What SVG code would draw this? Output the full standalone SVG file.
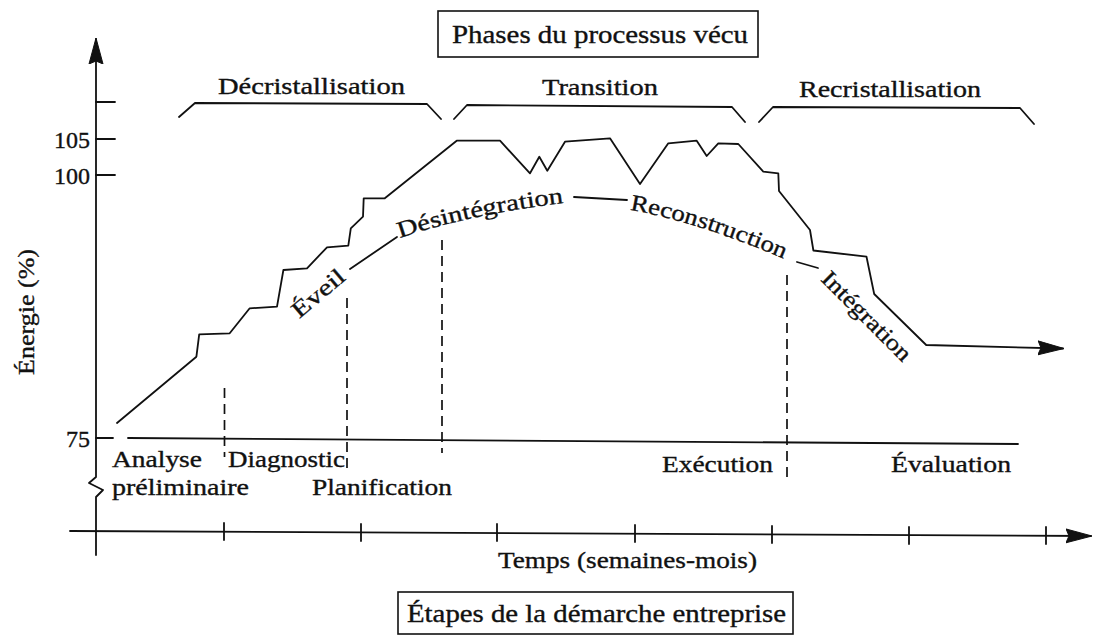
<svg xmlns="http://www.w3.org/2000/svg" width="1093" height="641" viewBox="0 0 1093 641">
<defs>
<style>
.ln{fill:none;stroke:#111;stroke-width:1.8;stroke-linejoin:round;stroke-linecap:round}
.dash{fill:none;stroke:#111;stroke-width:1.7;stroke-dasharray:10 6}
.box{fill:#fff;stroke:#111;stroke-width:1.6}
.t{font-family:"Liberation Serif","Times New Roman",serif;font-size:23px;fill:#111;stroke:#111;stroke-width:0.35}
.big{font-size:25px}
.num{font-size:24px}
</style>
<marker id="arrow" viewBox="0 0 26 16" refX="25" refY="8" markerWidth="26" markerHeight="16" markerUnits="userSpaceOnUse" orient="auto">
<path d="M0,1 L26,8 L0,15 L3,8 Z" fill="#111" stroke="#111" stroke-width="1" stroke-linejoin="round"/>
</marker>
<path id="p-desint" d="M400,238 Q470,214 572,202"/>
<path id="p-recon" d="M630,210 Q700,222 796,264"/>
</defs>
<rect width="1093" height="641" fill="#fff"/>

<!-- header: phases of the lived process -->
<g id="phases-title">
<rect class="box" x="438" y="11" width="320" height="46"/>
<text class="t big" x="452" y="43" textLength="296" lengthAdjust="spacingAndGlyphs">Phases du processus vécu</text>
</g>

<g id="phase-decristallisation">
<path class="ln" d="M179,117 L195,103 L427,104 L441,119"/>
<text class="t" x="218" y="94" textLength="187" lengthAdjust="spacingAndGlyphs">Décristallisation</text>
</g>
<g id="phase-transition">
<path class="ln" d="M454,119 L467,105 L732,107 L745,122"/>
<text class="t" x="542" y="95" textLength="116" lengthAdjust="spacingAndGlyphs">Transition</text>
</g>
<g id="phase-recristallisation">
<path class="ln" d="M759,122 L773,107 L1020,108 L1034,124"/>
<text class="t" x="799" y="97" textLength="182" lengthAdjust="spacingAndGlyphs">Recristallisation</text>
</g>

<!-- axes -->
<g id="axes">
<path class="ln" d="M96,555 L96,497 L103,490 L89,483 L96,477 L96,39" marker-end="url(#arrow)"/>
<path class="ln" d="M96,102 H115 M96,139 H115 M96,175 H115 M96,438 H113"/>
<text class="t num" x="90" y="148" text-anchor="end">105</text>
<text class="t num" x="90" y="184" text-anchor="end">100</text>
<text class="t num" x="90" y="447" text-anchor="end">75</text>
<text class="t" transform="translate(34,312) rotate(-90)" text-anchor="middle" textLength="126" lengthAdjust="spacingAndGlyphs">Énergie (%)</text>
<path class="ln" d="M70,531 L1091,536" marker-end="url(#arrow)"/>
<path class="ln" d="M224,523 V540 M361,524 V541 M497,524 V541 M635,525 V542 M772,526 V543 M909,527 V544 M1046,527 V544"/>
<text class="t" x="498" y="568" textLength="259" lengthAdjust="spacingAndGlyphs">Temps (semaines-mois)</text>
</g>

<!-- baseline of the steps and their boundaries -->
<g id="steps-baseline">
<path class="ln" d="M128,438 L1018,444"/>
<path class="dash" d="M224.5,388 V457"/>
<path class="dash" d="M347,298 V468"/>
<path class="dash" d="M442,240 V453"/>
<path class="dash" d="M787,275 V478"/>
</g>

<g id="step-analyse">
<text class="t" x="112" y="467" textLength="90" lengthAdjust="spacingAndGlyphs">Analyse</text>
<text class="t" x="112" y="495" textLength="137" lengthAdjust="spacingAndGlyphs">préliminaire</text>
</g>
<g id="step-diagnostic">
<text class="t" x="228" y="467" textLength="117" lengthAdjust="spacingAndGlyphs">Diagnostic</text>
</g>
<g id="step-planification">
<text class="t" x="312" y="495" textLength="140" lengthAdjust="spacingAndGlyphs">Planification</text>
</g>
<g id="step-execution">
<text class="t" x="662" y="472" textLength="111" lengthAdjust="spacingAndGlyphs">Exécution</text>
</g>
<g id="step-evaluation">
<text class="t" x="891" y="472" textLength="120" lengthAdjust="spacingAndGlyphs">Évaluation</text>
</g>

<g id="steps-title">
<rect class="box" x="398" y="592" width="395" height="42"/>
<text class="t big" x="407" y="622" textLength="379" lengthAdjust="spacingAndGlyphs">Étapes de la démarche entreprise</text>
</g>

<!-- energy curve and the lived-process track -->
<g id="connectors">
<path class="ln" marker-end="url(#arrow)" d="M117,423 L196.4,356.7 L199.2,334.3 L229.7,333.3 L249.7,308.3 L277,306.7 L283.4,270 L307,268.3 L327,247.3 L348.3,245.7 L350.8,228.3 L363,216.7 L363.7,198.3 L384.8,198.3 L456.7,140.7 L500,140.7 L530,173.3 L539.3,156.7 L547.3,170.7 L565,141.7 L610,138.3 L640,184 L668.3,143.3 L696.7,140.7 L706.7,156 L718.3,143.3 L738.3,144 L763.3,171.7 L778.3,173.3 L779,191 L810,230 L813.4,250.5 L866.5,256.7 L874.2,294 L926.2,345 L1063,348.5"/>
<path class="ln" d="M350,269 L397,237"/>
<path class="ln" d="M574,197 L627,200"/>
<path class="ln" d="M797,262 L818,268"/>
</g>

<g id="stage-eveil">
<text class="t" transform="translate(323,299) rotate(-40)" text-anchor="middle" textLength="62" lengthAdjust="spacingAndGlyphs">Éveil</text>
</g>
<g id="stage-desintegration">
<text class="t"><textPath href="#p-desint" textLength="168" lengthAdjust="spacingAndGlyphs">Désintégration</textPath></text>
</g>
<g id="stage-reconstruction">
<text class="t"><textPath href="#p-recon" textLength="162" lengthAdjust="spacingAndGlyphs">Reconstruction</textPath></text>
</g>
<g id="stage-integration">
<text class="t" transform="translate(820,280) rotate(45)" textLength="117" lengthAdjust="spacingAndGlyphs">Intégration</text>
</g>
</svg>
